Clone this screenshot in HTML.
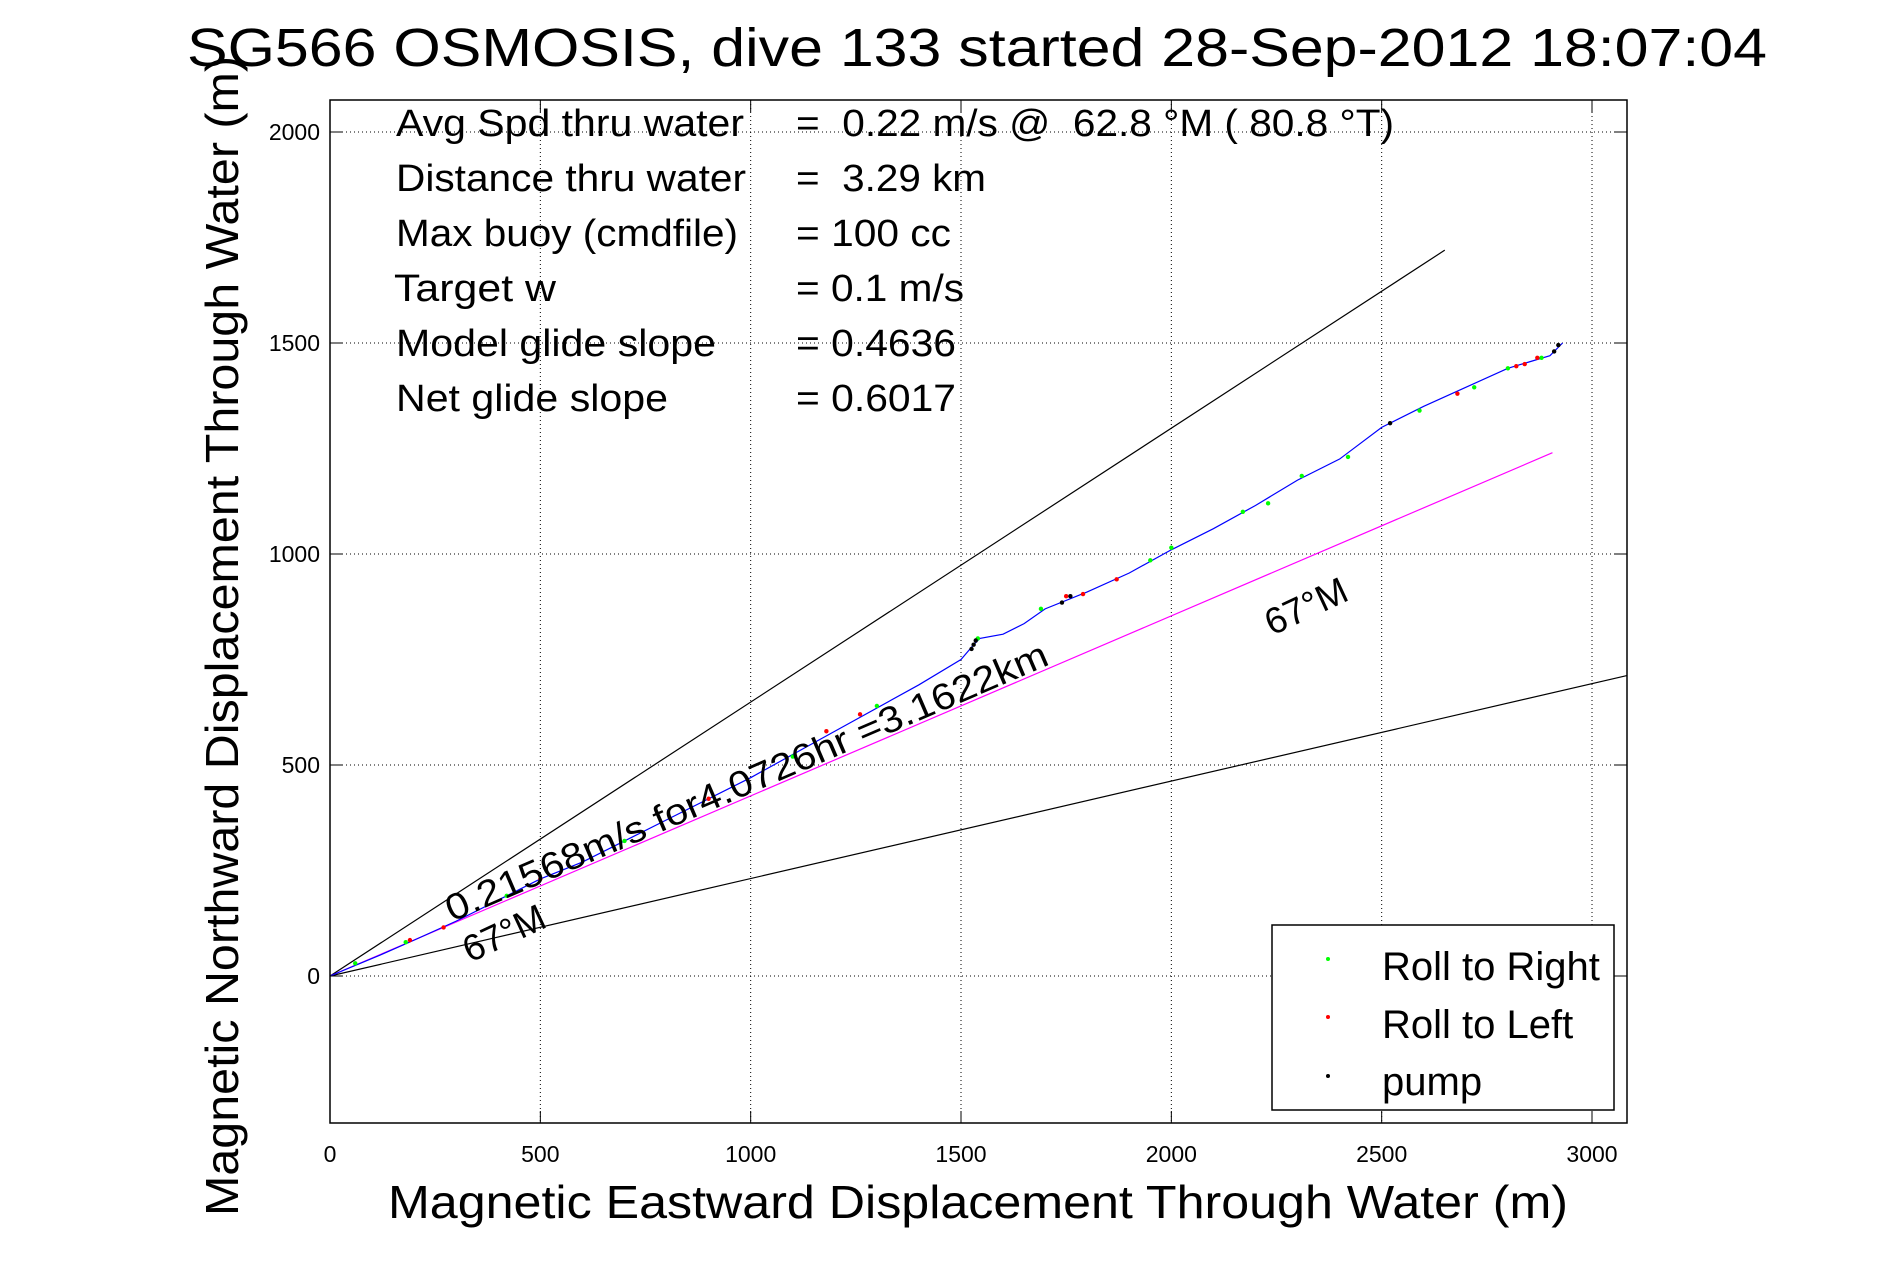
<!DOCTYPE html>
<html><head><meta charset="utf-8">
<style>
html,body{margin:0;padding:0;background:#fff;}
svg{display:block;font-family:"Liberation Sans",sans-serif;}
text{white-space:pre;}
</style></head>
<body>
<svg id="chart" width="1891" height="1262" viewBox="0 0 1891 1262" xmlns="http://www.w3.org/2000/svg">
<rect width="1891" height="1262" fill="#fff"/>
<text x="187" y="66" font-size="54" textLength="1580" lengthAdjust="spacingAndGlyphs">SG566 OSMOSIS, dive 133 started 28-Sep-2012 18:07:04</text>
<g id="grid"></g>
<g id="lines"></g>
<g id="track"></g>
<rect x="330" y="100" width="1297" height="1023" fill="none" stroke="#000" stroke-width="1.5"/>
<g id="ticks" font-size="23"></g>
<text x="388" y="1218" font-size="46" textLength="1180" lengthAdjust="spacingAndGlyphs">Magnetic Eastward Displacement Through Water (m)</text>
<text transform="translate(238,1216) rotate(-90)" font-size="46" textLength="1160" lengthAdjust="spacingAndGlyphs">Magnetic Northward Displacement Through Water (m)</text>
<g font-size="38">
<text x="396" y="136" textLength="348" lengthAdjust="spacingAndGlyphs">Avg Spd thru water</text><text x="796" y="136" textLength="598" lengthAdjust="spacingAndGlyphs">=  0.22 m/s @  62.8 °M ( 80.8 °T)</text>
<text x="396" y="191" textLength="350" lengthAdjust="spacingAndGlyphs">Distance thru water</text><text x="796" y="191" textLength="190" lengthAdjust="spacingAndGlyphs">=  3.29 km</text>
<text x="396" y="246" textLength="342" lengthAdjust="spacingAndGlyphs">Max buoy (cmdfile)</text><text x="796" y="246" textLength="155" lengthAdjust="spacingAndGlyphs">= 100 cc</text>
<text x="394" y="301" textLength="162" lengthAdjust="spacingAndGlyphs">Target w</text><text x="796" y="301" textLength="168" lengthAdjust="spacingAndGlyphs">= 0.1 m/s</text>
<text x="396" y="356" textLength="320" lengthAdjust="spacingAndGlyphs">Model glide slope</text><text x="796" y="356" textLength="160" lengthAdjust="spacingAndGlyphs">= 0.4636</text>
<text x="396" y="411" textLength="272" lengthAdjust="spacingAndGlyphs">Net glide slope</text><text x="796" y="411" textLength="160" lengthAdjust="spacingAndGlyphs">= 0.6017</text>
</g>
<text font-size="37" transform="translate(452,922) rotate(-23.3)" textLength="652" lengthAdjust="spacingAndGlyphs">0.21568m/s for4.0726hr =3.1622km</text>
<text font-size="37" transform="translate(1272,636) rotate(-25)">67°M</text>
<text font-size="37" transform="translate(470,963) rotate(-25)">67°M</text>
<g>
<rect x="1272" y="925" width="342" height="185" fill="#fff" stroke="#000" stroke-width="1.5"/>
<circle cx="1328" cy="959" r="2" fill="#00ff00"/><text x="1382" y="980" font-size="40">Roll to Right</text>
<circle cx="1328" cy="1017" r="2" fill="#ff0000"/><text x="1382" y="1038" font-size="40">Roll to Left</text>
<circle cx="1328" cy="1076" r="2" fill="#000"/><text x="1382" y="1095" font-size="40">pump</text>
</g>
<script>
const xTicks=[0,500,1000,1500,2000,2500,3000];
const yTicks=[0,500,1000,1500,2000];
const trackX=[0,60,120,200,300,400,500,600,800,1000,1200,1400,1500,1530,1545,1600,1650,1700,1800,1900,2000,2100,2200,2300,2400,2500,2600,2700,2800,2850,2900,2930];
const trackY=[0,25,50,85,130,180,230,270,370,470,580,690,750,785,800,810,835,870,910,955,1010,1060,1115,1175,1225,1300,1350,1395,1440,1455,1470,1500];
const greenX=[60,180,420,700,1100,1300,1540,1690,1950,2000,2170,2230,2310,2420,2590,2720,2800,2880];
const greenY=[30,80,190,320,520,640,800,870,985,1015,1100,1120,1185,1230,1340,1395,1440,1465];
const redX=[190,270,500,900,1180,1260,1750,1790,1870,2680,2820,2840,2870];
const redY=[85,115,230,420,580,620,900,905,940,1380,1445,1450,1465];
const blackX=[1525,1530,1535,1740,1760,2520,2910,2920];
const blackY=[775,785,795,885,900,1310,1480,1495];
const lineEndX=[2650,3083,2906];
const lineEndY=[1720,712,1240];
const lineColor=["#000","#000","#ff00ff"];
const X=v=>330+v*0.42067, Y=v=>976-v*0.422;
const NS="http://www.w3.org/2000/svg";
function mk(t,p,a){const e=document.createElementNS(NS,t);for(const k in a)e.setAttribute(k,a[k]);p.appendChild(e);return e;}
const grid=document.getElementById('grid'),ticks=document.getElementById('ticks');
xTicks.forEach(v=>{
 const g=mk('line',grid,{x1:X(v),x2:X(v),y1:100,y2:1123,stroke:'#000','stroke-width':1,'stroke-dasharray':'1,3'});
 
 
 const t=mk('text',ticks,{x:X(v),y:1162,'text-anchor':'middle'});t.textContent=v;
 
 
 mk('line',ticks,{x1:X(v),x2:X(v),y1:1123,y2:1111,stroke:'#000'});
 mk('line',ticks,{x1:X(v),x2:X(v),y1:100,y2:112,stroke:'#000'});
});
yTicks.forEach(v=>{
 const g=mk('line',grid,{x1:330,x2:1627,y1:Y(v),y2:Y(v),stroke:'#000','stroke-width':1,'stroke-dasharray':'1,3'});
 
 
 const t=mk('text',ticks,{x:320,y:Y(v)+8,'text-anchor':'end'});t.textContent=v;
 
 
 mk('line',ticks,{x1:330,x2:342,y1:Y(v),y2:Y(v),stroke:'#000'});
 mk('line',ticks,{x1:1627,x2:1615,y1:Y(v),y2:Y(v),stroke:'#000'});
});
const lines=document.getElementById('lines');
lineEndX.forEach((v,i)=>{
 const l=mk('line',lines,{x1:X(0),y1:Y(0),x2:X(v),y2:Y(lineEndY[i]),stroke:lineColor[i],'stroke-width':1.2});
 
 
});
const tr=document.getElementById('track');
const p=mk('polyline',tr,{points:trackX.map((v,i)=>X(v)+','+Y(trackY[i])).join(' '),fill:'none',stroke:'#0000ff','stroke-width':1.2});


function dots(xs,ys,c,n){xs.forEach((v,i)=>{const d=mk('circle',tr,{cx:X(v),cy:Y(ys[i]),r:2.2,fill:c});
 
 });}
dots(greenX,greenY,'#00ff00','roll-right-point');
dots(redX,redY,'#ff0000','roll-left-point');
dots(blackX,blackY,'#000','pump-point');
</script>
</svg>
</body></html>
